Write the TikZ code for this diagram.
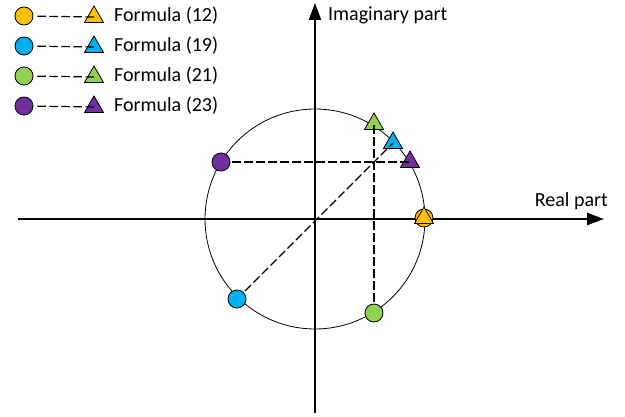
\documentclass[tikz,border=0pt]{standalone}
\usepackage{fontspec}
\setmainfont{Carlito}
\usetikzlibrary{arrows.meta,shapes.geometric}
\definecolor{corange}{HTML}{FFC000}
\definecolor{cblue}{HTML}{00B0F0}
\definecolor{cgreen}{HTML}{92D050}
\definecolor{cpurple}{HTML}{7030A0}
\tikzset{
  axis/.style={line width=2.4pt,-{Triangle[length=17pt,width=12pt]}},
  dot/.style={circle,draw=black,line width=0.8pt,minimum size=18pt,inner sep=0pt,fill=#1},
  tri/.style={regular polygon,regular polygon sides=3,draw=black,line width=0.8pt,minimum size=22pt,inner sep=0pt,fill=#1},
  dline/.style={line width=1.2pt,dash pattern=on 8.5pt off 3.5pt},
  lbl/.style={anchor=west,inner sep=0pt,font=\fontsize{20}{24}\selectfont}
}
\begin{document}
\begin{tikzpicture}[x=1pt,y=-1pt]
\useasboundingbox (0,0) rectangle (625,417);
% axes
\coordinate (xs) at (18,219);
\coordinate (xe) at (604,219);
\coordinate (ys) at (315,413);
\coordinate (ye) at (315,3);
\coordinate (O) at (315,219);
\draw[axis] (xs) -- (xe);
\draw[axis] (ys) -- (ye);
\draw[line width=0.8pt] (O) circle[radius=110pt];
\node[lbl,anchor=east] (rl) at (608,201) {Real part};
\node[lbl] (il) at (328,15) {Imaginary part};
% points
\node[dot=cpurple] (pc) at (221,162) {};
\node[dot=cblue] (bc) at (237,299) {};
\node[dot=cgreen] (gc) at (374,313) {};
\node[dot=corange] (oc) at (424,218) {};
\node[tri=cgreen] (gt) at (374,124) {};
\node[tri=cblue] (bt) at (393,143) {};
\node[tri=cpurple] (pt) at (410,162) {};
\node[tri=corange] (ot) at (424,218) {};
\draw[dline,shorten <=2pt] (pc) -- (pt.center);
\draw[dline,shorten <=2pt] (bc) -- (bt.center);
\draw[dline,shorten <=2pt] (gc) -- (gt.center);
% legend
\foreach \c/\f/\yy/\n in {corange/12/16/1,cblue/19/46/2,cgreen/21/76/3,cpurple/23/106/4}{
  \node[dot=\c] (lc\n) at (24,\yy) {};
  \node[tri=\c] (lt\n) at (94,\yy+1) {};
  \draw[dline,shorten <=4pt] (lc\n) -- (lt\n.center);
  \node[lbl] (lf\n) at (114,\yy) {Formula (\f)};
}
\end{tikzpicture}
\end{document}
